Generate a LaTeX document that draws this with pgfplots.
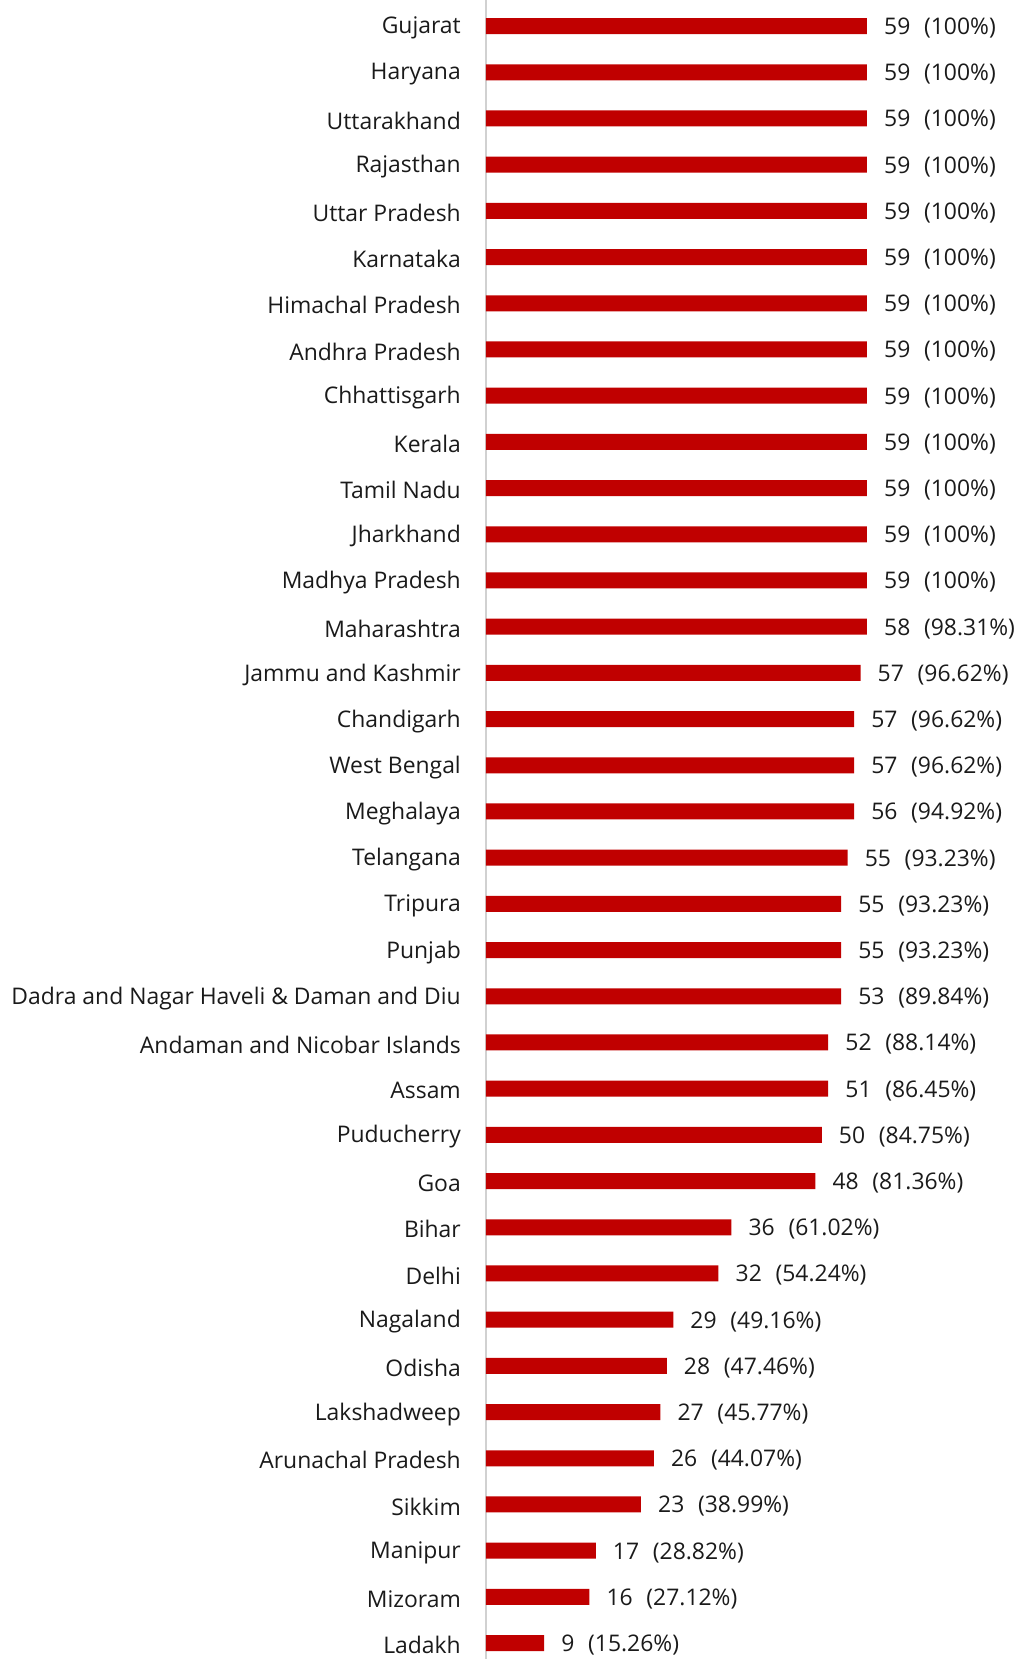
\documentclass[border=0pt]{standalone}
\usepackage{pgfplots}
\pgfplotsset{compat=1.18}
\usepackage{pgfplotstable}
\usepackage{fontspec}
\setmainfont{Open Sans}
\definecolor{barred}{HTML}{C00000}
\definecolor{txt}{HTML}{1A1A1A}
\newcommand\gap{\hspace{0.6em}}
\pgfplotstableread[col sep=comma]{
y,len,lab
0,59,59\gap(100\%)
1,59,59\gap(100\%)
2,59,59\gap(100\%)
3,59,59\gap(100\%)
4,59,59\gap(100\%)
5,59,59\gap(100\%)
6,59,59\gap(100\%)
7,59,59\gap(100\%)
8,59,59\gap(100\%)
9,59,59\gap(100\%)
10,59,59\gap(100\%)
11,59,59\gap(100\%)
12,59,59\gap(100\%)
13,59,58\gap(98.31\%)
14,58,57\gap(96.62\%)
15,57,57\gap(96.62\%)
16,57,57\gap(96.62\%)
17,57,56\gap(94.92\%)
18,56,55\gap(93.23\%)
19,55,55\gap(93.23\%)
20,55,55\gap(93.23\%)
21,55,53\gap(89.84\%)
22,53,52\gap(88.14\%)
23,53,51\gap(86.45\%)
24,52,50\gap(84.75\%)
25,51,48\gap(81.36\%)
26,38,36\gap(61.02\%)
27,36,32\gap(54.24\%)
28,29,29\gap(49.16\%)
29,28,28\gap(47.46\%)
30,27,27\gap(45.77\%)
31,26,26\gap(44.07\%)
32,24,23\gap(38.99\%)
33,17,17\gap(28.82\%)
34,16,16\gap(27.12\%)
35,9,9\gap(15.26\%)
}\datatable
\begin{document}
\begin{tikzpicture}[font=\fontsize{22.9}{27}\selectfont, text=txt]
\useasboundingbox (-486pt,0pt) rectangle (530pt,1659pt);
\begin{axis}[
  at={(0pt,0pt)}, anchor=south west,
  scale only axis,
  width=530pt, height=1659pt,
  xbar, bar width=16pt,
  xmin=0, xmax=82.08,
  y dir=reverse,
  ymin=-0.565, ymax=35.345,
  axis x line=none,
  axis y line*=left,
  y axis line style={draw=black!18, line width=1.6pt},
  major tick length=0pt,
  ytick={0,...,35},
  yticklabels={Gujarat,Haryana,Uttarakhand,Rajasthan,Uttar Pradesh,Karnataka,Himachal Pradesh,Andhra Pradesh,Chhattisgarh,Kerala,Tamil Nadu,Jharkhand,Madhya Pradesh,Maharashtra,Jammu and Kashmir,Chandigarh,West Bengal,Meghalaya,Telangana,Tripura,Punjab,Dadra and Nagar Haveli \& Daman and Diu,Andaman and Nicobar Islands,Assam,Puducherry,Goa,Bihar,Delhi,Nagaland,Odisha,Lakshadweep,Arunachal Pradesh,Sikkim,Manipur,Mizoram,Ladakh},
  yticklabel style={anchor=east, inner sep=0pt, xshift=-25pt, yshift=-2pt, text=txt},
  clip=false,
  point meta=explicit symbolic,
  nodes near coords,
  every node near coord/.append style={anchor=west, inner sep=0pt, xshift=17pt, yshift=-2pt, text=txt},
]
\addplot[draw=none, fill=barred] table[x=len, y=y, meta=lab] {\datatable};
\end{axis}
\end{tikzpicture}
\end{document}
